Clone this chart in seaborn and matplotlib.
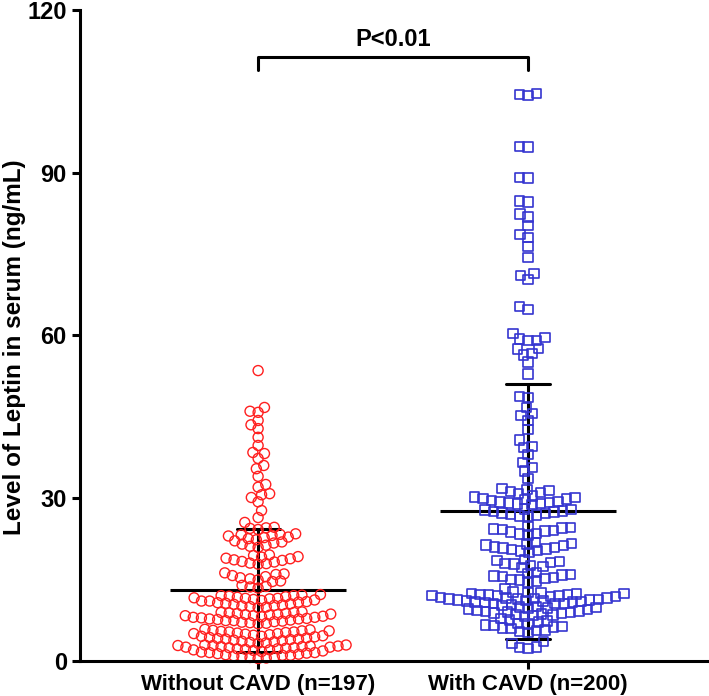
import matplotlib
matplotlib.use('Agg')
import matplotlib.pyplot as plt
import seaborn as sns
import pandas as pd

groups = ['Without CAVD (n=197)', 'With CAVD (n=200)']

# serum leptin (ng/mL)
without_cavd = [
    53.5, 46.7, 46.0, 45.8, 44.3, 43.5, 42.8, 41.2, 39.7, 38.4, 38.2, 37.3,
    36.0, 35.4, 34.0, 32.5, 32.0, 30.8, 30.6, 30.1, 29.3, 27.7, 26.4, 25.5,
    24.6, 24.4, 24.5, 24.2,
    20.9, 21.1, 21.3, 21.5, 21.7, 21.9, 22.1, 22.3, 22.5, 22.7, 22.8, 23.0,
    23.1, 23.2, 23.3, 23.4,
    17.8, 17.9, 18.0, 18.2, 18.3, 18.5, 18.6, 18.8, 18.9, 19.1, 19.2, 19.4, 19.5,
    14.6, 14.7, 14.9, 15.1, 15.3, 15.5, 15.7, 15.9, 16.0, 16.2,
    13.4, 13.6, 13.7, 13.9,
    9.8, 9.9, 10.0, 10.1, 10.2, 10.3, 10.4, 10.5, 10.6, 10.7, 10.8, 10.9, 11.0,
    11.0, 11.1, 11.2, 11.3, 11.4, 11.5, 11.5, 11.6, 11.7, 11.8, 11.9, 12.0,
    12.0, 12.1, 12.2,
    6.8, 6.9, 7.0, 7.1, 7.2, 7.3, 7.4, 7.4, 7.5, 7.6, 7.7, 7.7, 7.8, 7.9, 8.0,
    8.0, 8.1, 8.2, 8.3, 8.3, 8.4, 8.5, 8.5, 8.6, 8.7, 8.7, 8.8, 8.9, 8.9, 9.0,
    3.2, 3.3, 3.4, 3.5, 3.6, 3.7, 3.8, 3.9, 4.0, 4.0, 4.1, 4.2, 4.3, 4.4, 4.5,
    4.5, 4.6, 4.7, 4.8, 4.9, 5.0, 5.0, 5.1, 5.2, 5.3, 5.3, 5.4, 5.5, 5.5, 5.6,
    5.7, 5.8,
    0.4, 0.5, 0.6, 0.7, 0.8, 0.9, 1.0, 1.0, 1.1, 1.2, 1.3, 1.4, 1.5, 1.5, 1.6,
    1.7, 1.8, 1.9, 2.0, 2.0, 2.1, 2.2, 2.2, 2.3, 2.4, 2.4, 2.5, 2.5, 2.6, 2.6,
    2.7, 2.7, 2.8, 2.8, 2.9, 2.9,
]

with_cavd = [
    104.6, 104.2, 104.4, 94.7, 94.8, 89.0, 89.1, 84.8, 84.6, 81.8, 82.4, 80.2,
    78.6, 78.0, 76.4, 74.3, 71.0, 70.3, 71.4, 64.8, 65.3,
    55.1, 56.6, 56.4, 57.6, 59.6, 57.5, 59.1, 59.0, 59.3, 60.3, 52.9,
    45.6, 45.2, 44.3, 46.7, 48.5, 48.7,
    36.5, 35.0, 35.6, 38.0, 33.6, 39.5, 39.3, 40.7, 42.6,
    30.8, 31.0, 31.2, 31.4, 31.6, 31.8,
    28.8, 28.9, 29.0, 29.1, 29.2, 29.3, 29.4, 29.5, 29.7, 29.8, 29.9, 30.1,
    30.2, 30.4,
    26.6, 26.7, 26.9, 27.0, 27.1, 27.2, 27.4, 27.5, 27.6, 27.8, 27.9, 28.0,
    23.2, 23.4, 23.5, 23.7, 23.9, 24.0, 24.2, 24.3, 24.5, 24.6, 24.8,
    20.0, 20.2, 20.3, 20.5, 20.6, 20.8, 20.9, 21.0, 21.2, 21.3, 21.5, 21.6, 21.8,
    17.2, 17.4, 17.6, 17.8, 17.9, 18.1, 18.3, 18.5, 18.7,
    14.5, 14.7, 14.9, 15.0, 15.2, 15.3, 15.5, 15.6, 15.8, 15.9, 16.1, 16.3,
    10.4, 10.5, 10.6, 10.6, 10.7, 10.8, 10.8, 10.9, 11.0, 11.0, 11.1, 11.2,
    11.2, 11.3, 11.4, 11.4, 11.5, 11.6, 11.6, 11.7, 11.8, 11.8, 11.9, 12.0,
    12.0, 12.1, 12.2, 12.2, 12.3, 12.4, 12.4, 12.5, 12.6, 12.7, 13.2,
    8.2, 8.3, 8.4, 8.5, 8.6, 8.7, 8.8, 8.9, 9.0, 9.1, 9.2, 9.3, 9.4, 9.5, 9.6,
    9.7, 9.8, 9.9, 10.0, 10.2,
    5.2, 5.4, 5.6, 5.7, 5.9, 6.0, 6.2, 6.3, 6.5, 6.6, 6.8, 6.9, 7.1, 7.3, 7.5, 7.8,
    2.3, 2.4, 2.5, 3.2, 3.5,
]

sns.set_style('ticks')
plt.rcParams['font.family'] = ['Liberation Sans', 'DejaVu Sans']
plt.rcParams['font.weight'] = 'bold'
for key in ['text.color', 'axes.labelcolor', 'xtick.color', 'ytick.color', 'axes.edgecolor']:
    plt.rcParams[key] = 'black'

df = pd.DataFrame({
    'group': [groups[0]] * len(without_cavd) + [groups[1]] * len(with_cavd),
    'leptin': without_cavd + with_cavd,
})

fig = plt.figure(figsize=(7.09, 6.96), dpi=100)
ax = fig.add_axes([0.1128, 0.0507, 0.887, 0.935])

# swarm layout is done with small markers so rows overlap like the original
sns.swarmplot(x=[groups[0]] * len(without_cavd), y=without_cavd, order=groups,
              marker='o', size=5.6, linewidth=0, color='red', ax=ax)
sns.swarmplot(x=[groups[1]] * len(with_cavd), y=with_cavd, order=groups,
              marker='s', size=6.0, linewidth=0, color='blue', ax=ax)
swarm_red = [c for c in ax.collections if len(c.get_offsets()) == len(without_cavd)][0]
swarm_blue = [c for c in ax.collections if len(c.get_offsets()) == len(with_cavd)][0]

# mean +- SD
sns.pointplot(data=df, x='group', y='leptin', order=groups, errorbar='sd',
              capsize=0.16, color='black', linestyle='none', marker='_',
              markersize=127, markeredgewidth=2.2, err_kws={'linewidth': 2.2}, ax=ax)

ax.set_xlim(-0.66, 1.67)
ax.set_ylim(0, 120)
ax.set_yticks([0, 30, 60, 90, 120])
ax.set_xlabel('')
ax.set_ylabel('Level of Leptin in serum (ng/mL)', fontsize=17.5, fontweight='bold')
ax.yaxis.set_label_coords(-0.086, 0.482)
for s in ['top', 'right']:
    ax.spines[s].set_visible(False)
for s in ['left', 'bottom']:
    ax.spines[s].set_linewidth(2.2)
    ax.spines[s].set_zorder(5)
ax.tick_params(axis='both', width=2.2, length=6, color='black', labelcolor='black')
ax.tick_params(axis='y', labelsize=17)
ax.tick_params(axis='x', labelsize=16)
for lab in ax.get_xticklabels() + ax.get_yticklabels():
    lab.set_fontweight('bold')

# significance bracket
ax.plot([0, 0, 1, 1], [109, 111.4, 111.4, 109], color='black', lw=2.2)
ax.text(0.5, 112.4, 'P<0.01', ha='center', va='bottom', fontsize=17, fontweight='bold')

fig.canvas.draw()
for coll, c, m, lw in [(swarm_red, '#ff1f1f', 52, 1.0), (swarm_blue, '#3535d0', 46, 1.2)]:
    if 'draw' in coll.__dict__:
        del coll.draw
    coll.set_sizes([m])
    coll.set_facecolor('none')
    coll.set_edgecolor(c)
    coll.set_linewidth(lw)
    coll.set_clip_on(False)

plt.savefig('out.png', dpi=100)
plt.close('all')
